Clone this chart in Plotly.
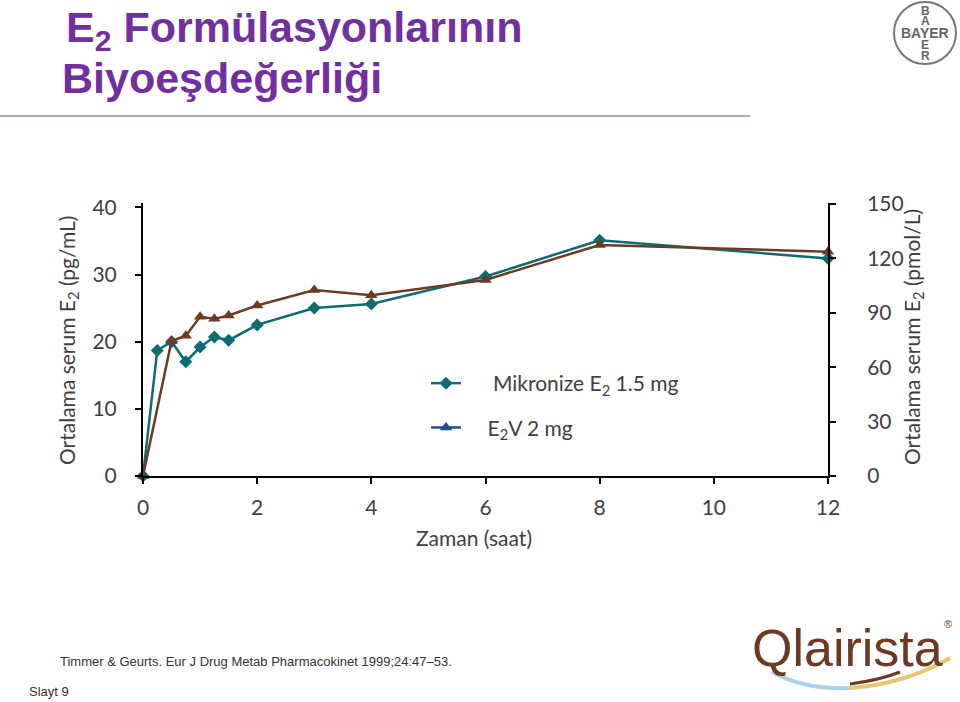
import plotly.graph_objects as go

# hours after dosing
time_h = [0, 0.25, 0.5, 0.75, 1.0, 1.25, 1.5, 2, 3, 4, 6, 8, 12]
time_v = [0, 0.5, 0.75, 1.0, 1.25, 1.5, 2, 3, 4, 6, 8, 12]

# mean serum E2 (pg/mL)
mikronize_e2 = [0, 18.7, 20.0, 17.0, 19.2, 20.7, 20.2, 22.5, 25.0, 25.6, 29.7, 35.1, 32.4]
e2v = [0, 20.1, 20.9, 23.7, 23.4, 23.9, 25.4, 27.7, 26.9, 29.2, 34.4, 33.4]

x_ticks = [0, 2, 4, 6, 8, 10, 12]
left_ticks = [0, 10, 20, 30, 40]
right_ticks = [0, 30, 60, 90, 120, 150]

teal = "#0e6b70"
brown = "#6e3a24"
navy = "#1f4e8c"
txt = "#404040"
font_family = "Lato, Open Sans, sans-serif"
sans = "Liberation Sans, Arial, sans-serif"

W, H = 960, 702
L, R, T, B = 143, 828, 203, 476


def px_x(x):
    return (x - L) / (R - L)


def px_y(y):
    return (B - y) / (B - T)


fig = go.Figure()

fig.add_trace(go.Scatter(x=time_h, y=mikronize_e2, mode="lines+markers", showlegend=False,
                         line=dict(color=teal, width=2.5),
                         marker=dict(symbol="diamond", size=10, color=teal),
                         cliponaxis=False))
fig.add_trace(go.Scatter(x=time_v, y=e2v, mode="lines+markers", showlegend=False,
                         line=dict(color=brown, width=2.5),
                         marker=dict(symbol="triangle-up", size=11, color=brown),
                         cliponaxis=False))

# legend entries (legend glyph of E2V is blue in the original)
nb = "\u00a0"
fig.add_trace(go.Scatter(x=[None], y=[None], mode="lines+markers", legendgroup="a",
                         name=nb * 5 + "Mikronize E<sub>2</sub> 1.5 mg",
                         line=dict(color=teal, width=2.5),
                         marker=dict(symbol="diamond", size=10, color=teal)))
fig.add_trace(go.Scatter(x=[None], y=[None], mode="lines+markers", legendgroup="b",
                         name=nb * 4 + "E<sub>2</sub>V 2 mg",
                         line=dict(color=navy, width=2.5),
                         marker=dict(symbol="triangle-up", size=11, color=navy)))

# dummy trace for the right axis
fig.add_trace(go.Scatter(x=[None], y=[None], yaxis="y2", showlegend=False))

axis_common = dict(showline=True, linecolor="black", linewidth=2, ticks="outside",
                   tickcolor="black", tickwidth=2, ticklen=6, showgrid=False, zeroline=False,
                   tickfont=dict(family=font_family, size=21, color=txt))

fig.update_layout(
    width=W, height=H,
    plot_bgcolor="white", paper_bgcolor="white",
    margin=dict(l=L, r=W - R, t=T, b=H - B, autoexpand=False),
    xaxis=dict(range=[0, 12], tickvals=x_ticks, ticklabelstandoff=6, **axis_common),
    yaxis=dict(range=[0, 40.65], tickvals=left_ticks, ticklabelstandoff=14, **axis_common),
    yaxis2=dict(range=[0, 150.5], tickvals=right_ticks, overlaying="y", side="right",
                ticklabelstandoff=27, **axis_common),
    legend=dict(x=px_x(426), y=px_y(363), xanchor="left", yanchor="top",
                bgcolor="rgba(0,0,0,0)", itemwidth=30, tracegroupgap=14,
                font=dict(family=font_family, size=21, color=txt)),
    showlegend=True,
)

annotations = [
    dict(text="Zaman (saat)", x=px_x(474), y=px_y(537), font=dict(family=font_family, size=21, color=txt)),
    dict(text="Ortalama serum E<sub>2</sub> (pg/mL)", x=px_x(68), y=px_y(341), textangle=-90,
         font=dict(family=font_family, size=21, color=txt)),
    dict(text="Ortalama serum E<sub>2</sub> (pmol/L)", x=px_x(913), y=px_y(337), textangle=-90,
         font=dict(family=font_family, size=21, color=txt)),
    dict(text="<b>E<sub>2</sub> Formülasyonlarının</b>", x=px_x(64), y=px_y(30), xanchor="left",
         font=dict(family=sans, size=43, color="#7030a0")),
    dict(text="<b>Biyoeşdeğerliği</b>", x=px_x(60), y=px_y(78), xanchor="left",
         font=dict(family=sans, size=43, color="#7030a0")),
    dict(text="Timmer & Geurts. Eur J Drug Metab Pharmacokinet 1999;24:47\u201353.", x=px_x(58), y=px_y(661),
         xanchor="left", font=dict(family=sans, size=13, color="#333333")),
    dict(text="Slayt 9", x=px_x(27), y=px_y(691), xanchor="left",
         font=dict(family=sans, size=13, color="#333333")),
    dict(text="Qlairista", x=px_x(847), y=px_y(648),
         font=dict(family=sans, size=52, color="#6b3a24")),
    dict(text="®", x=px_x(948), y=px_y(624), font=dict(family=sans, size=11, color="#6b3a24")),
    dict(text="<b>BAYER</b>", x=px_x(925), y=px_y(33), font=dict(family=sans, size=14, color="#666666")),
]
for letter, yy in [("B", 11), ("A", 21), ("E", 45), ("R", 56)]:
    annotations.append(dict(text="<b>%s</b>" % letter, x=px_x(925), y=px_y(yy),
                            font=dict(family=sans, size=12, color="#666666")))
for a in annotations:
    a.update(xref="paper", yref="paper", showarrow=False)
    a.setdefault("xanchor", "center")
    a.setdefault("yanchor", "middle")
fig.update_layout(annotations=annotations)

shapes = [
    dict(type="line", x0=px_x(0), x1=px_x(750), y0=px_y(116), y1=px_y(116),
         line=dict(color="#7f97b8", width=1.5)),
    dict(type="circle", x0=px_x(894), x1=px_x(956), y0=px_y(2), y1=px_y(64),
         line=dict(color="#777777", width=2)),
    dict(type="path", line=dict(color="#a9d3ea", width=4),
         path="M %f %f Q %f %f %f %f" % (px_x(772), px_y(672), px_x(805), px_y(690), px_x(850), px_y(688))),
    dict(type="path", line=dict(color="#e8c66a", width=4),
         path="M %f %f Q %f %f %f %f" % (px_x(850), px_y(688), px_x(905), px_y(684), px_x(950), px_y(658))),
    dict(type="path", line=dict(color="#6b3a24", width=3),
         path="M %f %f Q %f %f %f %f" % (px_x(850), px_y(684), px_x(880), px_y(680), px_x(900), px_y(672))),
]
for s in shapes:
    s.update(xref="paper", yref="paper")
fig.update_layout(shapes=shapes)

fig.write_html("out.html", config={"displayModeBar": False},
               post_script="document.body.style.margin='0px';")
